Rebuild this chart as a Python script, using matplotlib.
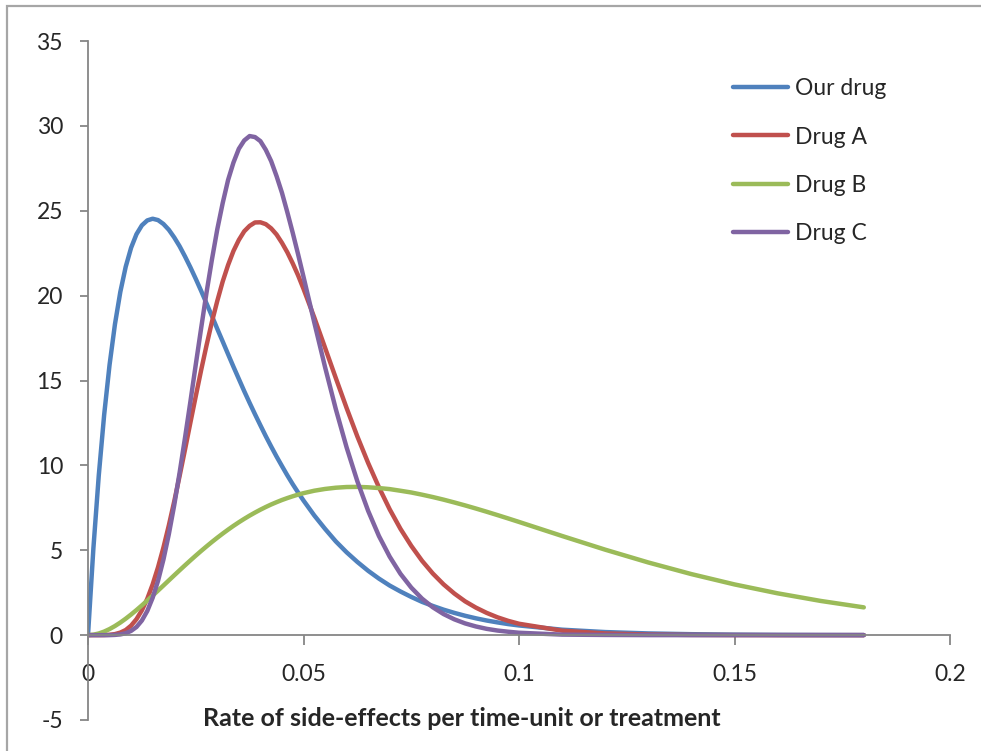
import matplotlib
matplotlib.use("Agg")
import matplotlib.pyplot as plt
from matplotlib.patches import Rectangle

# Rate grid (fine steps where the curves bend, coarser along the tail)
rate = [0.0, 0.00125, 0.0025, 0.00375, 0.005, 0.00625, 0.0075, 0.00875, 0.01, 0.01125,
        0.0125, 0.01375, 0.015, 0.01625, 0.0175, 0.01875, 0.02, 0.02125, 0.0225, 0.02375,
        0.025, 0.02625, 0.0275, 0.02875, 0.03, 0.03125, 0.0325, 0.03375, 0.035, 0.03625,
        0.0375, 0.03875, 0.04, 0.04125, 0.0425, 0.04375, 0.045, 0.04625, 0.0475, 0.04875,
        0.05,
        0.0525, 0.055, 0.0575, 0.06, 0.0625, 0.065, 0.0675, 0.07, 0.0725, 0.075,
        0.0775, 0.08, 0.0825, 0.085, 0.0875, 0.09, 0.0925, 0.095, 0.0975, 0.1,
        0.11, 0.12, 0.13, 0.14, 0.15, 0.16, 0.17, 0.18]

our_drug = [0.0, 5.11, 9.41, 12.98, 15.92, 18.31, 20.22, 21.70, 22.82, 23.62,
            24.14, 24.43, 24.53, 24.45, 24.22, 23.88, 23.43, 22.91, 22.31, 21.67,
            20.99, 20.28, 19.54, 18.80, 18.04, 17.30, 16.55, 15.81, 15.09, 14.37,
            13.68, 13.01, 12.36, 11.72, 11.11, 10.52, 9.96, 9.41, 8.89, 8.40,
            7.93,
            7.05, 6.26, 5.52, 4.88, 4.31, 3.79, 3.33, 2.92, 2.57, 2.25,
            1.96, 1.72, 1.50, 1.31, 1.14, 0.99, 0.86, 0.75, 0.65, 0.57,
            0.32, 0.18, 0.10, 0.055, 0.03, 0.016, 0.009, 0.005]

drug_a = [0.0, 0.0, 0.0, 0.004, 0.02, 0.06, 0.15, 0.30, 0.56, 0.94,
          1.46, 2.14, 2.99, 4.00, 5.16, 6.46, 7.87, 9.37, 10.92, 12.51,
          14.07, 15.61, 17.07, 18.45, 19.69, 20.83, 21.80, 22.63, 23.28, 23.79,
          24.11, 24.31, 24.32, 24.21, 23.96, 23.60, 23.11, 22.55, 21.90, 21.19,
          20.40,
          18.71, 16.93, 15.14, 13.38, 11.70, 10.14, 8.71, 7.41, 6.26, 5.26,
          4.38, 3.63, 2.99, 2.45, 1.99, 1.62, 1.31, 1.05, 0.84, 0.67,
          0.26, 0.10, 0.035, 0.012, 0.004, 0.0, 0.0, 0.0]

drug_b = [0.0, 0.025, 0.097, 0.209, 0.357, 0.536, 0.741, 0.969, 1.216, 1.478,
          1.752, 2.036, 2.328, 2.624, 2.923, 3.223, 3.522, 3.819, 4.112, 4.400,
          4.683, 4.959, 5.227, 5.488, 5.739, 5.981, 6.214, 6.437, 6.649, 6.850,
          7.041, 7.220, 7.390, 7.548, 7.697, 7.832, 7.960, 8.074, 8.180, 8.277,
          8.363,
          8.507, 8.611, 8.684, 8.725, 8.733, 8.709, 8.664, 8.602, 8.505, 8.403,
          8.274, 8.134, 7.981, 7.815, 7.641, 7.458, 7.268, 7.072, 6.872, 6.668,
          5.841, 5.034, 4.280, 3.595, 2.987, 2.463, 2.014, 1.635]

drug_c = [0.0, 0.0, 0.0, 0.0, 0.0, 0.013, 0.042, 0.11, 0.25, 0.48,
          0.86, 1.42, 2.20, 3.20, 4.45, 5.94, 7.65, 9.56, 11.61, 13.74,
          15.93, 18.08, 20.18, 22.12, 23.91, 25.45, 26.81, 27.84, 28.65, 29.14,
          29.40, 29.34, 29.10, 28.59, 27.92, 27.04, 26.06, 24.91, 23.70, 22.43,
          21.11,
          18.42, 15.79, 13.31, 11.06, 9.06, 7.32, 5.84, 4.62, 3.61, 2.80,
          2.15, 1.64, 1.24, 0.93, 0.69, 0.51, 0.37, 0.27, 0.20, 0.14,
          0.03, 0.01, 0.0, 0.0, 0.0, 0.0, 0.0, 0.0]

series = [("Our drug", our_drug, "#4F81BD"),
          ("Drug A", drug_a, "#C0504D"),
          ("Drug B", drug_b, "#9BBB59"),
          ("Drug C", drug_c, "#8064A2")]

x_ticks = [0, 0.05, 0.1, 0.15, 0.2]
x_tick_labels = ["0", "0.05", "0.1", "0.15", "0.2"]
y_ticks = [-5, 0, 5, 10, 15, 20, 25, 30, 35]

plt.rcParams["font.family"] = ["Lato", "DejaVu Sans"]
plt.rcParams["axes.unicode_minus"] = False
W, H = 981, 751
fig = plt.figure(figsize=(W / 100, H / 100), dpi=100)
fig.patch.set_facecolor("white")

# chart-area frame
fig.patches.append(Rectangle((7 / W, -0.1), 1.2, 1 - 6 / H + 0.1,
                             transform=fig.transFigure, fill=False,
                             edgecolor="#A6A6A6", linewidth=1.6))

ax = fig.add_axes([88 / W, 31 / H, 862 / W, 679 / H])
axis_color = "#868686"
text_color = "#262626"

for name, vals, col in series:
    ax.plot(rate, vals, color=col, linewidth=3.2, label=name,
            solid_capstyle="round", solid_joinstyle="round")

ax.set_xlim(0, 0.2)
ax.set_ylim(-5, 35)
ax.set_xticks(x_ticks)
ax.set_xticklabels(x_tick_labels)
ax.set_yticks(y_ticks)

for s in ("top", "right"):
    ax.spines[s].set_visible(False)
ax.spines["left"].set_position(("data", 0))
ax.spines["bottom"].set_position(("data", 0))
for s in ("left", "bottom"):
    ax.spines[s].set_color(axis_color)
    ax.spines[s].set_linewidth(1.3)

ax.tick_params(axis="y", direction="out", length=6, width=1.3,
               color=axis_color, labelsize=16.5, pad=12, labelcolor=text_color)
ax.tick_params(axis="x", direction="out", length=7, width=1.3,
               color=axis_color, labelsize=16.5, pad=14, labelcolor=text_color)

fig.text(462 / W, 1 - 718 / H, "Rate of side-effects per time-unit or treatment",
         ha="center", va="center", fontsize=18, fontweight="bold", color=text_color)

leg = ax.legend(loc="upper left", bbox_to_anchor=(733 / W, 1 - 78 / H),
                bbox_transform=fig.transFigure, frameon=False, fontsize=16.5,
                handlelength=2.4, handletextpad=0.3, labelspacing=1.2,
                borderpad=0, borderaxespad=0)
for t in leg.get_texts():
    t.set_color(text_color)

fig.savefig("out.png", dpi=100, facecolor="white")
